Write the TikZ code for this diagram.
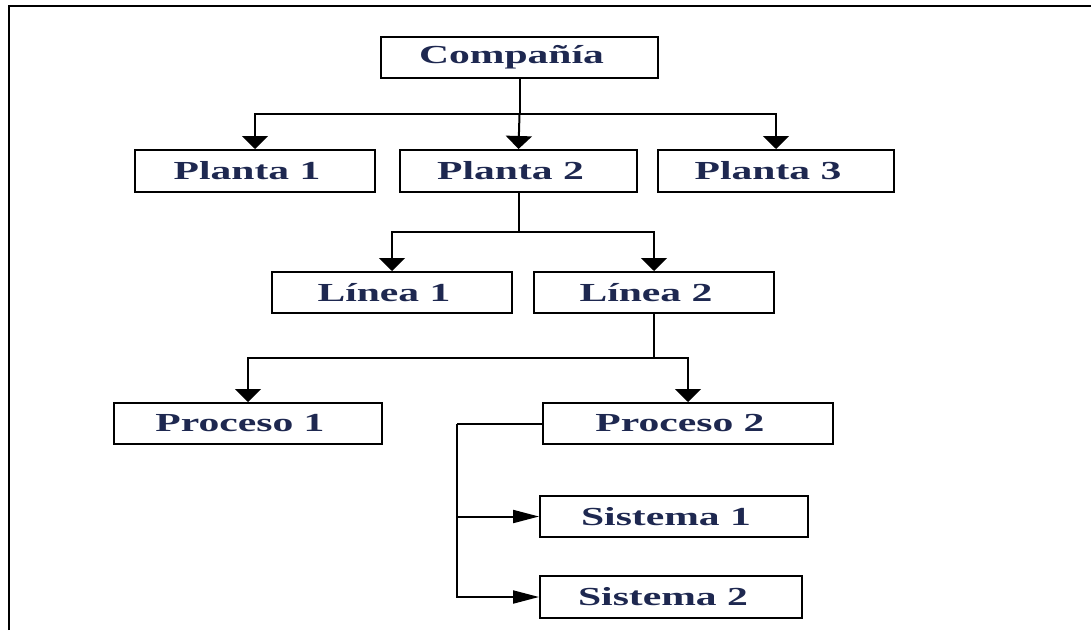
\documentclass[tikz,border=0pt]{standalone}
\usepackage{fontspec}
\setmainfont{Liberation Serif}[FakeStretch=1.6]
\usetikzlibrary{arrows.meta}
\definecolor{txt}{RGB}{30,40,80}
\tikzset{
  box/.style={draw=black, line width=2pt, fill=white, inner sep=0pt,
    text=txt, font=\fontsize{26}{30}\selectfont\bfseries,
    execute at end node={\hspace*{16pt}}},
  conn/.style={draw=black, line width=2pt},
  darr/.style={conn, -{Triangle[width=26pt,length=13pt]}},
  rarr/.style={conn, -{Triangle[width=13pt,length=26pt]}},
}
\begin{document}
\begin{tikzpicture}[x=1pt,y=-1pt]
\useasboundingbox (0,0) rectangle (1091,630);
% frame
\draw[line width=2pt] (9,630) -- (9,6) -- (1091,6);
% nodes
\node[box, minimum width=277pt, minimum height=41pt] (comp) at (519.5,57.5) {Compañía};
\node[box, minimum width=240pt, minimum height=42pt] (p1) at (255,171) {Planta 1};
\node[box, minimum width=237pt, minimum height=42pt] (p2) at (518.5,171) {Planta 2};
\node[box, minimum width=236pt, minimum height=42pt] (p3) at (776,171) {Planta 3};
\node[box, minimum width=240pt, minimum height=41pt] (l1) at (392,292.5) {Línea 1};
\node[box, minimum width=240pt, minimum height=41pt] (l2) at (654,292.5) {Línea 2};
\node[box, minimum width=268pt, minimum height=41pt] (pr1) at (248,423.5) {Proceso 1};
\node[box, minimum width=290pt, minimum height=41pt] (pr2) at (688,423.5) {Proceso 2};
\node[box, minimum width=268pt, minimum height=41pt] (s1) at (674,516.5) {Sistema 1};
\node[box, minimum width=262pt, minimum height=42pt] (s2) at (671,597) {Sistema 2};
% junctions
\coordinate (j1) at (comp.south |- 0,114);
\coordinate (j2) at (p2.south |- 0,232);
\coordinate (j3) at (l2.south |- 0,358);
\coordinate (j4) at (457,0 |- pr2.west);
% connectors
\draw[conn] (comp.south) -- (j1);
\draw[darr] (j1) -| (p1.north);
\draw[darr] (j1) -- (p2.north);
\draw[darr] (j1) -| (p3.north);
\draw[conn] (p2.south) -- (j2);
\draw[darr] (j2) -| (l1.north);
\draw[darr] (j2) -| (l2.north);
\draw[conn] (l2.south) -- (j3);
\draw[darr] (j3) -| (pr1.north);
\draw[darr] (j3) -| (pr2.north);
\draw[conn] (pr2.west) -- (j4);
\draw[rarr] (j4) |- (s1.west);
\draw[rarr] (j4) |- (s2.west);
\end{tikzpicture}
\end{document}
